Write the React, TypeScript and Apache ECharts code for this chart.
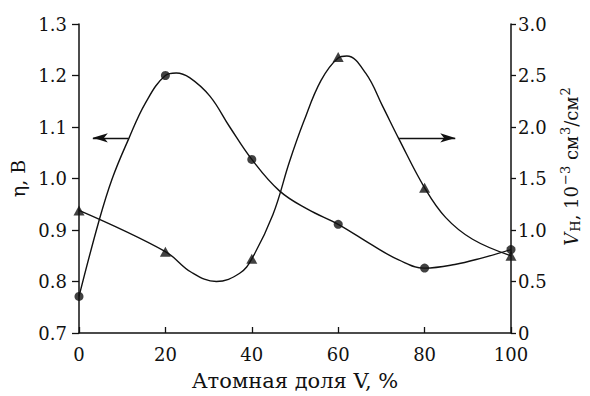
import React, { useEffect, useRef } from "react";
import * as echarts from "echarts";

// Measured points (atomic fraction of V, %)
const composition = [0, 20, 40, 60, 80, 100];
const etaValues = [0.771, 1.2, 1.037, 0.911, 0.826, 0.862];
const vhValues = [1.19, 0.79, 0.72, 2.68, 1.41, 0.75];

// Hand-drawn fitted curves
const etaCurveX = [0, 4.6, 7.7, 11.5, 15.4, 20, 22.5, 25.6, 30.3, 34.9, 40, 46.4, 53, 60, 68, 74, 80, 87, 93.4, 100];
const etaCurveY = [0.771, 0.917, 1.0, 1.077, 1.147, 1.2, 1.205, 1.196, 1.16, 1.1, 1.037, 0.976, 0.94, 0.911, 0.87, 0.842, 0.826, 0.833, 0.846, 0.862];
const vhCurveX = [0, 20, 26, 31.8, 37.2, 40, 44.9, 48.7, 52, 56, 60, 62, 66.4, 70.3, 74.1, 80, 84.9, 91.1, 100];
const vhCurveY = [1.19, 0.79, 0.59, 0.5, 0.58, 0.72, 1.15, 1.66, 2.05, 2.45, 2.67, 2.69, 2.52, 2.2, 1.88, 1.41, 1.12, 0.91, 0.75];

// Arrows pointing to the axis each curve belongs to
const etaArrowX = [11.4, 3.2];
const etaArrowLevel = 1.079;
const vhArrowX = [74.1, 87.1];
const vhArrowLevel = 1.894;

// Axis ranges / ticks
const xRange = [0, 100, 20];
const etaRange = [0.7, 1.3, 0.1];
const vhRange = [0, 3, 0.5];

const FONT = "DejaVu Serif";
const INK = "#111";

export default function App() {
  const ref = useRef<HTMLDivElement>(null);

  useEffect(() => {
    document.body.style.margin = "0";
    const chart = echarts.init(ref.current!, null, { renderer: "svg" });

    const arrowLine = (xs: number[], level: number) => ({
      silent: true,
      symbol: ["none", "arrow"],
      label: { show: false },
      emphasis: { disabled: true },
      lineStyle: { color: INK, width: 1.4, type: "solid" },
      data: [
        [
          { coord: [xs[0], level], symbol: "none" },
          { coord: [xs[1], level], symbol: "arrow", symbolSize: [7, 15] },
        ],
      ],
    });

    chart.setOption({
      animation: false,
      backgroundColor: "#fff",
      textStyle: { fontFamily: FONT, color: INK },
      grid: { left: 79, right: 78, top: 24, bottom: 60, containLabel: false },
      xAxis: {
        type: "value",
        min: xRange[0],
        max: xRange[1],
        interval: xRange[2],
        name: "Атомная доля V, %",
        nameLocation: "middle",
        nameGap: 37,
        nameTextStyle: { fontFamily: FONT, fontSize: 21, color: INK },
        axisLine: { show: true, lineStyle: { color: INK, width: 1.5 } },
        axisTick: { show: true, inside: true, length: 6, lineStyle: { color: INK, width: 1.3 } },
        axisLabel: { fontFamily: FONT, fontSize: 18, color: INK, margin: 12 },
        splitLine: { show: false },
      },
      yAxis: [
        {
          type: "value",
          position: "left",
          min: etaRange[0],
          max: etaRange[1],
          interval: etaRange[2],
          name: "η, В",
          nameLocation: "middle",
          nameGap: 47,
          nameTextStyle: { fontFamily: FONT, fontSize: 19, color: INK },
          axisLine: { show: true, lineStyle: { color: INK, width: 1.5 } },
          axisTick: { show: true, inside: false, length: 7, lineStyle: { color: INK, width: 1.3 } },
          axisLabel: {
            fontFamily: FONT,
            fontSize: 18,
            color: INK,
            margin: 12,
            formatter: (v: number) => v.toFixed(1),
          },
          splitLine: { show: false },
        },
        {
          type: "value",
          position: "right",
          min: vhRange[0],
          max: vhRange[1],
          interval: vhRange[2],
          name: "{it|V}{sub|H}{n|, 10}{sup|−3}{n| см}{sup|3}{n|/см}{sup|2}",
          nameLocation: "middle",
          nameGap: 48,
          nameTextStyle: {
            fontFamily: FONT,
            fontSize: 18,
            color: INK,
            padding: [0, 0, 0, 24],
            rich: {
              n: { fontFamily: FONT, fontSize: 18, color: INK },
              it: { fontFamily: FONT, fontSize: 18, color: INK, fontStyle: "italic" },
              sub: { fontFamily: FONT, fontSize: 13, color: INK, padding: [9, 0, 0, 1] },
              sup: { fontFamily: FONT, fontSize: 13, color: INK, padding: [0, 0, 11, 1] },
            },
          },
          axisLine: { show: true, lineStyle: { color: INK, width: 1.5 } },
          axisTick: { show: true, inside: false, length: 5, lineStyle: { color: INK, width: 1.3 } },
          axisLabel: {
            fontFamily: FONT,
            fontSize: 18,
            color: INK,
            margin: 7,
            formatter: (v: number) => (v === 0 ? "0" : v.toFixed(1)),
          },
          splitLine: { show: false },
        },
      ],
      series: [
        {
          name: "eta-curve",
          type: "line",
          yAxisIndex: 0,
          smooth: 0.4,
          showSymbol: false,
          silent: true,
          lineStyle: { color: INK, width: 1.4 },
          data: etaCurveX.map((x, i) => [x, etaCurveY[i]]),
          markLine: arrowLine(etaArrowX, etaArrowLevel),
          z: 2,
        },
        {
          name: "vh-curve",
          type: "line",
          yAxisIndex: 1,
          smooth: 0.4,
          showSymbol: false,
          silent: true,
          lineStyle: { color: INK, width: 1.4 },
          data: vhCurveX.map((x, i) => [x, vhCurveY[i]]),
          markLine: arrowLine(vhArrowX, vhArrowLevel),
          z: 2,
        },
        {
          name: "eta",
          type: "scatter",
          yAxisIndex: 0,
          symbol: "circle",
          symbolSize: 9,
          itemStyle: { color: INK },
          data: composition.map((x, i) => [x, etaValues[i]]),
          z: 5,
        },
        {
          name: "vh",
          type: "scatter",
          yAxisIndex: 1,
          symbol: "triangle",
          symbolSize: [11, 10],
          itemStyle: { color: INK },
          data: composition.map((x, i) => [x, vhValues[i]]),
          z: 5,
        },
      ],
    });

    return () => chart.dispose();
  }, []);

  return <div ref={ref} style={{ width: 590, height: 396 }} />;
}
